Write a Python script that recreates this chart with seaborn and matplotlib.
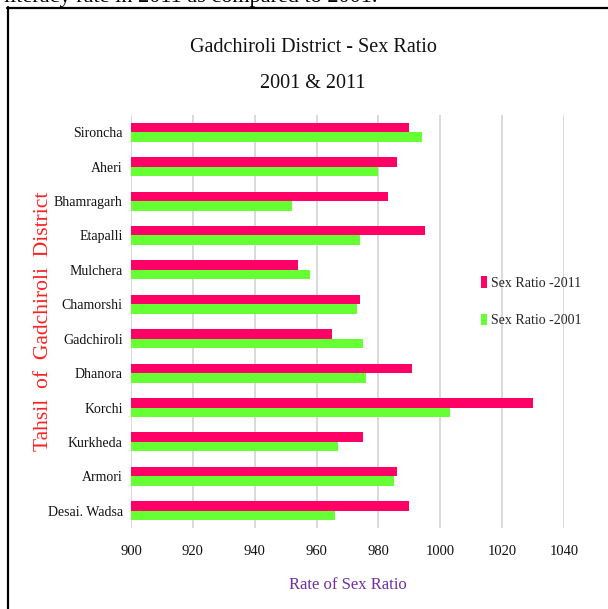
import matplotlib
matplotlib.use("Agg")
import matplotlib.pyplot as plt
from matplotlib.lines import Line2D
import seaborn as sns
import pandas as pd

# Tahsils of Gadchiroli district, top to bottom
tahsils = ["Sironcha", "Aheri", "Bhamragarh", "Etapalli", "Mulchera", "Chamorshi",
           "Gadchiroli", "Dhanora", "Korchi", "Kurkheda", "Armori", "Desai. Wadsa"]
sex_ratio_2011 = [990, 986, 983, 995, 954, 974, 965, 991, 1030, 975, 986, 990]
sex_ratio_2001 = [994, 980, 952, 974, 958, 973, 975, 976, 1003, 967, 985, 966]
series_names = ["Sex Ratio -2011", "Sex Ratio -2001"]
x_ticks = [900, 920, 940, 960, 980, 1000, 1020, 1040]

df = pd.DataFrame({
    "Tahsil": tahsils * 2,
    "Ratio": sex_ratio_2011 + sex_ratio_2001,
    "Series": [series_names[0]] * len(tahsils) + [series_names[1]] * len(tahsils),
})

sns.set_style("white")
serif = ["Liberation Serif", "DejaVu Serif"]
plt.rcParams["font.family"] = serif

fig = plt.figure(figsize=(6.08, 6.09), dpi=100)
ax = fig.add_axes([131 / 608, 1 - 528 / 609, 433 / 608, 413 / 609])

sns.barplot(data=df, y="Tahsil", x="Ratio", hue="Series", order=tahsils,
            hue_order=series_names, palette=["#FF0066", "#66FF33"], saturation=1,
            width=0.55, orient="h", linewidth=0, ax=ax)

ax.set_xlim(900, 1040)
ax.set_ylim(len(tahsils) - 0.5, -0.5)
ax.set_xticks(x_ticks)
ax.set_xticklabels([str(t) for t in x_ticks])
ax.grid(axis="x", color="#D9D9D9", linewidth=1.4)
ax.set_axisbelow(True)
for s in ax.spines.values():
    s.set_visible(False)
ax.tick_params(axis="x", length=0, pad=12, labelsize=10.5, labelcolor="#111111")
ax.tick_params(axis="y", length=0, pad=6, labelsize=10, labelcolor="#111111")

ax.set_xlabel("Rate of Sex Ratio", color="#7030A0", fontsize=12)
ax.xaxis.set_label_coords(0.5, -0.118)
ax.set_ylabel("Tahsil  of  Gadchiroli  District", color="#FF2020", fontsize=15.5)
ax.yaxis.set_label_coords(-0.18, 0.5)

handles, labels = ax.get_legend_handles_labels()
ax.legend(handles, labels, loc="upper left", bbox_to_anchor=(481 / 608, 1 - 276 / 609),
          bbox_transform=fig.transFigure, frameon=False, fontsize=10,
          handlelength=0.45, handleheight=0.9, handletextpad=0.3,
          labelspacing=1.75, borderpad=0, borderaxespad=0)

fig.text(313 / 608, 1 - 47 / 609, "Gadchiroli District - Sex Ratio",
         ha="center", va="center", fontsize=14.5, color="#111111")
fig.text(313 / 608, 1 - 83 / 609, "2001 & 2011",
         ha="center", va="center", fontsize=14.5, color="#111111")

# Running text of the page above the chart box
fig.text(0.006, 1 - 2 / 609, "literacy rate in 2011 as compared to 2001.",
         ha="left", va="baseline", fontsize=16, color="black")

# Chart box edges
fig.add_artist(Line2D([7 / 608, 1.0], [1 - 7.5 / 609, 1 - 7.5 / 609],
                      transform=fig.transFigure, color="black", linewidth=1.6))
fig.add_artist(Line2D([7.5 / 608, 7.5 / 608], [1 - 7 / 609, 0.0],
                      transform=fig.transFigure, color="black", linewidth=1.6))

fig.savefig("out.png", dpi=100, facecolor="white")
